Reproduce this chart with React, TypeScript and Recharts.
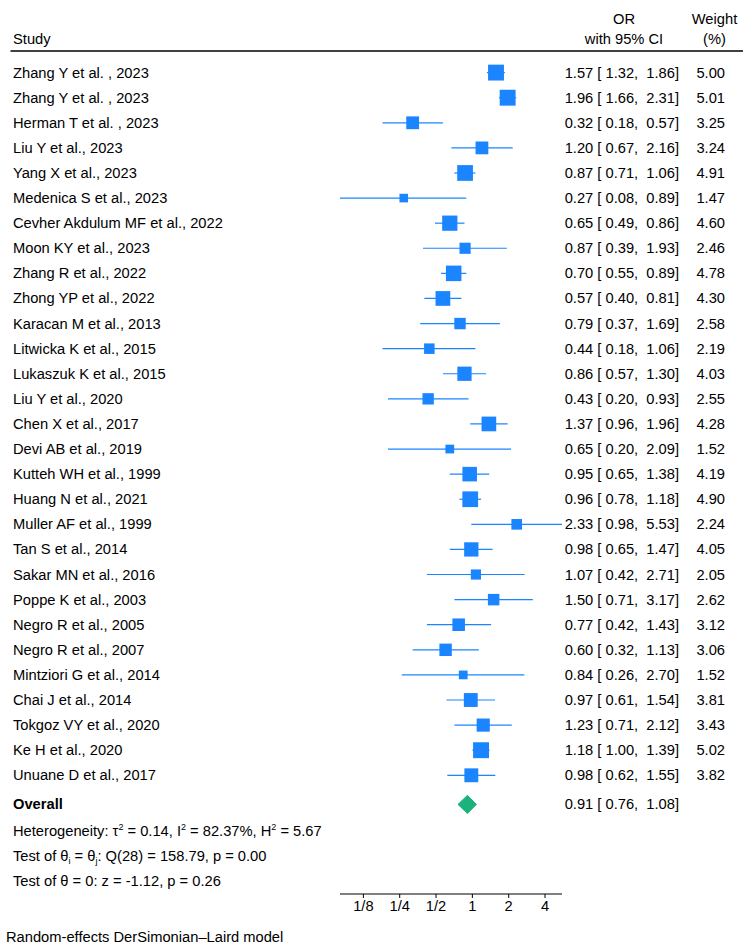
import React from 'react'
import { ReferenceLine, Scatter, ScatterChart, XAxis, YAxis } from 'recharts'

const studyNames = [
  'Zhang Y et al. , 2023',
  'Zhang Y et al. , 2023',
  'Herman T et al. , 2023',
  'Liu Y et al., 2023',
  'Yang X et al., 2023',
  'Medenica S et al., 2023',
  'Cevher Akdulum MF et al., 2022',
  'Moon KY et al., 2023',
  'Zhang R et al., 2022',
  'Zhong YP et al., 2022',
  'Karacan M et al., 2013',
  'Litwicka K et al., 2015',
  'Lukaszuk K et al., 2015',
  'Liu Y et al., 2020',
  'Chen X et al., 2017',
  'Devi AB et al., 2019',
  'Kutteh WH et al., 1999',
  'Huang N et al., 2021',
  'Muller AF et al., 1999',
  'Tan S et al., 2014',
  'Sakar MN et al., 2016',
  'Poppe K et al., 2003',
  'Negro R et al., 2005',
  'Negro R et al., 2007',
  'Mintziori G et al., 2014',
  'Chai J et al., 2014',
  'Tokgoz VY et al., 2020',
  'Ke H et al., 2020',
  'Unuane D et al., 2017',
]

const oddsRatios = [
  1.57, 1.96, 0.32, 1.2, 0.87, 0.27, 0.65, 0.87, 0.7, 0.57, 0.79, 0.44, 0.86,
  0.43, 1.37, 0.65, 0.95, 0.96, 2.33, 0.98, 1.07, 1.5, 0.77, 0.6, 0.84, 0.97,
  1.23, 1.18, 0.98,
]

const ciLower = [
  1.32, 1.66, 0.18, 0.67, 0.71, 0.08, 0.49, 0.39, 0.55, 0.4, 0.37, 0.18, 0.57,
  0.2, 0.96, 0.2, 0.65, 0.78, 0.98, 0.65, 0.42, 0.71, 0.42, 0.32, 0.26, 0.61,
  0.71, 1.0, 0.62,
]

const ciUpper = [
  1.86, 2.31, 0.57, 2.16, 1.06, 0.89, 0.86, 1.93, 0.89, 0.81, 1.69, 1.06, 1.3,
  0.93, 1.96, 2.09, 1.38, 1.18, 5.53, 1.47, 2.71, 3.17, 1.43, 1.13, 2.7, 1.54,
  2.12, 1.39, 1.55,
]

const weights = [
  5.0, 5.01, 3.25, 3.24, 4.91, 1.47, 4.6, 2.46, 4.78, 4.3, 2.58, 2.19, 4.03,
  2.55, 4.28, 1.52, 4.19, 4.9, 2.24, 4.05, 2.05, 2.62, 3.12, 3.06, 1.52, 3.81,
  3.43, 5.02, 3.82,
]

const overallOR = 0.91
const overallLower = 0.76
const overallUpper = 1.08

const xTicks = [0.125, 0.25, 0.5, 1, 2, 4]
const xTickLabels = ['1/8', '1/4', '1/2', '1', '2', '4']

const BLUE = '#1a85ff'
const GREEN = '#1cb27b'
const FONT = '"Liberation Sans", Arial, Helvetica, sans-serif'
const FONT_SIZE = 14.7
const OVERALL_ROW = 29.16
const DIAMOND_HALF = 0.36

const fmt = (v: number) => v.toFixed(2)
const ciText = (or: number, lo: number, hi: number) =>
  `${fmt(or)} [ ${fmt(lo)},  ${fmt(hi)}]`

const studies = studyNames.map((name, i) => ({
  name,
  x: oddsRatios[i],
  y: i,
  lo: ciLower[i],
  hi: ciUpper[i],
  w: weights[i],
}))

const diamond = [
  { x: overallLower, y: OVERALL_ROW },
  { x: overallOR, y: OVERALL_ROW - DIAMOND_HALF },
  { x: overallUpper, y: OVERALL_ROW },
  { x: overallOR, y: OVERALL_ROW + DIAMOND_HALF },
  { x: overallLower, y: OVERALL_ROW },
]

const overallRow = [{ x: overallOR, y: OVERALL_ROW }]

const textProps = {
  fontFamily: FONT,
  fontSize: FONT_SIZE,
  fill: '#000',
  style: { whiteSpace: 'pre' as const },
}

// square marker plus the row's label, OR text and weight
const renderStudy = (props: any) => {
  const { cx, cy, payload } = props
  const side = 7.1 * Math.sqrt(payload.w)
  const base = cy + 5
  return (
    <g>
      <rect
        x={cx - side / 2}
        y={cy - side / 2}
        width={side}
        height={side}
        fill={BLUE}
      />
      <text x={13} y={base} {...textProps}>
        {payload.name}
      </text>
      <text x={679} y={base} textAnchor='end' {...textProps}>
        {ciText(payload.x, payload.lo, payload.hi)}
      </text>
      <text x={725} y={base} textAnchor='end' {...textProps}>
        {fmt(payload.w)}
      </text>
    </g>
  )
}

const renderOverallText = (props: any) => {
  const { cy } = props
  const base = cy + 5
  return (
    <g>
      <text x={13} y={base} {...textProps} fontWeight='bold'>
        Overall
      </text>
      <text x={679} y={base} textAnchor='end' {...textProps}>
        {ciText(overallOR, overallLower, overallUpper)}
      </text>
    </g>
  )
}

const App = () => {
  return (
    <div
      style={{
        position: 'absolute',
        left: 0,
        top: 0,
        width: 754,
        height: 950,
        background: '#fff',
      }}
    >
      <ScatterChart
        width={754}
        height={950}
        margin={{ top: 47.5, right: 192, bottom: 26, left: 340 }}
      >
        <XAxis
          type='number'
          dataKey='x'
          scale='log'
          domain={[0.08, 5.53]}
          ticks={xTicks}
          interval={0}
          tickFormatter={(v: number) => xTickLabels[xTicks.indexOf(v)] ?? ''}
          height={30}
          tickSize={4}
          tickMargin={3}
          axisLine={{ stroke: '#000', strokeWidth: 1.2 }}
          tickLine={{ stroke: '#000' }}
          tick={{ fill: '#000', fontSize: FONT_SIZE, fontFamily: FONT }}
        />
        <YAxis type='number' dataKey='y' reversed domain={[-1, 32.73]} hide />

        {/* CONFIDENCE INTERVALS */}
        {studies.map((s) => (
          <ReferenceLine
            key={`ci-${s.y}`}
            segment={[
              { x: s.lo, y: s.y },
              { x: s.hi, y: s.y },
            ]}
            stroke={BLUE}
            strokeWidth={1.2}
            ifOverflow='visible'
          />
        ))}

        {/* STUDY ESTIMATES */}
        <Scatter
          data={studies}
          fill={BLUE}
          shape={renderStudy}
          isAnimationActive={false}
        />

        {/* OVERALL DIAMOND */}
        <Scatter
          data={diamond}
          fill={GREEN}
          line={{ stroke: GREEN, fill: GREEN, strokeWidth: 1 }}
          lineType='joint'
          shape={() => <g />}
          isAnimationActive={false}
        />
        <Scatter
          data={overallRow}
          shape={renderOverallText}
          isAnimationActive={false}
        />
      </ScatterChart>

      <svg
        width={754}
        height={950}
        style={{ position: 'absolute', left: 0, top: 0, pointerEvents: 'none' }}
      >
        <text x={13} y={44} {...textProps}>
          Study
        </text>
        <text x={624} y={24} textAnchor='middle' {...textProps}>
          OR
        </text>
        <text x={624} y={44} textAnchor='middle' {...textProps}>
          with 95% CI
        </text>
        <text x={714.5} y={24} textAnchor='middle' {...textProps}>
          Weight
        </text>
        <text x={714.5} y={44} textAnchor='middle' {...textProps}>
          (%)
        </text>
        <line x1={10.5} x2={743} y1={51} y2={51} stroke='#000' strokeWidth={1.3} />

        <text x={13} y={835.5} {...textProps}>
          <tspan>{'Heterogeneity: τ'}</tspan>
          <tspan dy={-6} fontSize={9}>2</tspan>
          <tspan dy={6}>{' = 0.14, I'}</tspan>
          <tspan dy={-6} fontSize={9}>2</tspan>
          <tspan dy={6}>{' = 82.37%, H'}</tspan>
          <tspan dy={-6} fontSize={9}>2</tspan>
          <tspan dy={6}>{' = 5.67'}</tspan>
        </text>
        <text x={13} y={861} {...textProps}>
          <tspan>{'Test of θ'}</tspan>
          <tspan dy={3} fontSize={9}>i</tspan>
          <tspan dy={-3}>{' = θ'}</tspan>
          <tspan dy={3} fontSize={9}>j</tspan>
          <tspan dy={-3}>{': Q(28) = 158.79, p = 0.00'}</tspan>
        </text>
        <text x={13} y={885.5} {...textProps}>
          Test of θ = 0: z = -1.12, p = 0.26
        </text>
        <text x={6} y={942} {...textProps}>
          Random-effects DerSimonian–Laird model
        </text>
      </svg>
    </div>
  )
}

export default App
